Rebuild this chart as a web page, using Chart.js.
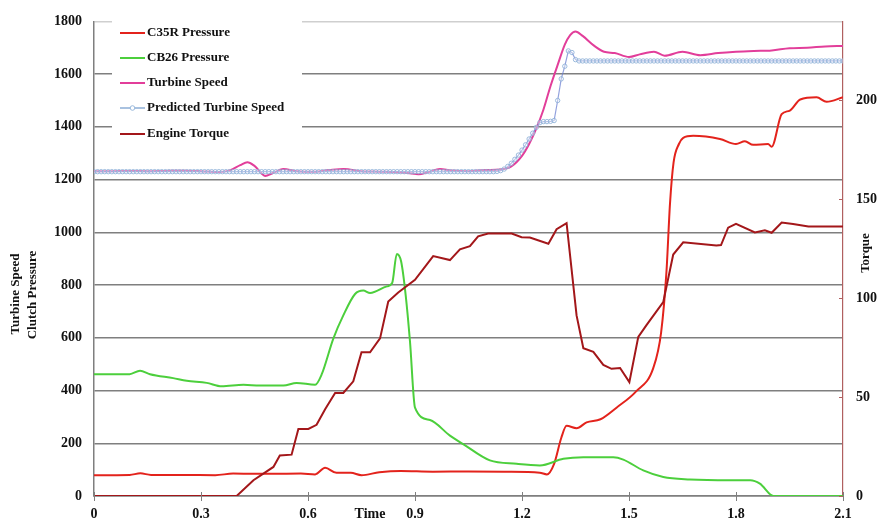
<!DOCTYPE html>
<html>
<head>
<meta charset="utf-8">
<script src="https://cdn.jsdelivr.net/npm/chart.js@4.4.1/dist/chart.umd.min.js"></script>
<style>
  html, body { margin: 0; padding: 0; background: #ffffff; }
  #wrap { width: 879px; height: 520px; position: relative; }
</style>
</head>
<body>
<div id="wrap"><canvas id="c" width="879" height="520"></canvas></div>
<script>
// ---------------- data ----------------
const seriesNames = ["C35R Pressure", "CB26 Pressure", "Turbine Speed", "Predicted Turbine Speed", "Engine Torque"];

const xTickLabels = ["0", "0.3", "0.6", "0.9", "1.2", "1.5", "1.8", "2.1"];
const leftTickLabels = ["0", "200", "400", "600", "800", "1000", "1200", "1400", "1600", "1800"];
const rightTickLabels = ["0", "50", "100", "150", "200"];

const c35rTime = [0, 0.1, 0.13, 0.16, 0.25, 0.34, 0.39, 0.45, 0.5, 0.58, 0.62, 0.648, 0.68, 0.72, 0.75, 0.8, 0.86, 0.95, 1.05, 1.15, 1.25, 1.27, 1.29, 1.31, 1.325, 1.353, 1.381, 1.42, 1.465, 1.52, 1.568, 1.59, 1.605, 1.615, 1.625, 1.64, 1.652, 1.68, 1.755, 1.8, 1.825, 1.848, 1.89, 1.9, 1.928, 1.951, 1.98, 2.026, 2.054, 2.1];
const c35rValues = [79, 80, 86, 80, 80, 79, 85, 84, 84, 85, 82, 107, 88, 88, 79, 90, 95, 92, 93, 92, 88, 82, 122, 220, 266, 257, 279, 291, 335, 397, 485, 620, 850, 1110, 1265, 1335, 1358, 1366, 1354, 1335, 1345, 1332, 1335, 1325, 1448, 1462, 1504, 1512, 1495, 1512];

const cb26Time = [0, 0.1, 0.129, 0.157, 0.222, 0.26, 0.316, 0.358, 0.419, 0.465, 0.531, 0.568, 0.62, 0.638, 0.671, 0.699, 0.732, 0.755, 0.774, 0.821, 0.836, 0.849, 0.861, 0.874, 0.886, 0.9, 0.942, 0.998, 1.035, 1.11, 1.185, 1.25, 1.316, 1.372, 1.456, 1.484, 1.54, 1.596, 1.671, 1.783, 1.84, 1.867, 1.905, 2.1];
const cb26Values = [462, 462, 475, 462, 447, 437, 429, 416, 422, 419, 419, 429, 422, 460, 597, 685, 766, 779, 770, 795, 808, 918, 890, 760, 585, 335, 288, 229, 197, 135, 122, 116, 141, 147, 147, 138, 97, 72, 63, 60, 60, 47, 0, 0];

const turbineTime = [0, 0.05, 0.1, 0.15, 0.2, 0.25, 0.3, 0.35, 0.38, 0.41, 0.43, 0.45, 0.48, 0.5, 0.53, 0.57, 0.62, 0.66, 0.7, 0.75, 0.8, 0.85, 0.88, 0.91, 0.94, 0.97, 1.0, 1.05, 1.1, 1.14, 1.17, 1.2, 1.22, 1.24, 1.26, 1.28, 1.3, 1.32, 1.335, 1.35, 1.37, 1.4, 1.43, 1.46, 1.5, 1.53, 1.57, 1.6, 1.65, 1.7, 1.75, 1.8, 1.85, 1.9, 1.95, 2.0, 2.05, 2.1];
const turbineValues = [1232, 1232, 1233, 1232, 1233, 1234, 1232, 1229, 1235, 1255, 1266, 1252, 1214, 1224, 1240, 1232, 1230, 1236, 1240, 1232, 1230, 1228, 1225, 1220, 1230, 1240, 1235, 1232, 1236, 1238, 1250, 1290, 1335, 1393, 1465, 1555, 1635, 1712, 1748, 1762, 1745, 1710, 1685, 1680, 1665, 1675, 1685, 1670, 1685, 1672, 1680, 1685, 1688, 1690, 1698, 1700, 1705, 1707];

// predicted turbine speed, sampled every 0.01 s from 0 to 2.1
const predictedStep = 0.01;
const predictedValues = [
  1230, 1230, 1230, 1230, 1230, 1230, 1230, 1230, 1230, 1230,
  1230, 1230, 1230, 1230, 1230, 1230, 1230, 1230, 1230, 1230,
  1230, 1230, 1230, 1230, 1230, 1230, 1230, 1230, 1230, 1230,
  1230, 1230, 1230, 1230, 1230, 1230, 1230, 1230, 1230, 1230,
  1230, 1230, 1230, 1230, 1230, 1230, 1230, 1230, 1230, 1230,
  1230, 1230, 1230, 1230, 1230, 1230, 1230, 1230, 1230, 1230,
  1230, 1230, 1230, 1230, 1230, 1230, 1230, 1230, 1230, 1230,
  1230, 1230, 1230, 1230, 1230, 1230, 1230, 1230, 1230, 1230,
  1230, 1230, 1230, 1230, 1230, 1230, 1230, 1230, 1230, 1230,
  1230, 1230, 1230, 1230, 1230, 1230, 1230, 1230, 1230, 1230,
  1230, 1230, 1230, 1230, 1230, 1230, 1230, 1230, 1230, 1230,
  1230, 1230, 1230, 1231, 1234, 1240, 1250, 1262, 1277, 1293,
  1312, 1332, 1354, 1376, 1398, 1416, 1420, 1420, 1421, 1424,
  1500, 1582, 1630, 1688, 1682, 1655, 1650, 1650, 1650, 1650,
  1650, 1650, 1650, 1650, 1650, 1650, 1650, 1650, 1650, 1650,
  1650, 1650, 1650, 1650, 1650, 1650, 1650, 1650, 1650, 1650,
  1650, 1650, 1650, 1650, 1650, 1650, 1650, 1650, 1650, 1650,
  1650, 1650, 1650, 1650, 1650, 1650, 1650, 1650, 1650, 1650,
  1650, 1650, 1650, 1650, 1650, 1650, 1650, 1650, 1650, 1650,
  1650, 1650, 1650, 1650, 1650, 1650, 1650, 1650, 1650, 1650,
  1650, 1650, 1650, 1650, 1650, 1650, 1650, 1650, 1650, 1650,
  1650
];

const torqueTime = [0, 0.4, 0.447, 0.503, 0.521, 0.554, 0.573, 0.601, 0.624, 0.648, 0.676, 0.699, 0.727, 0.75, 0.774, 0.802, 0.825, 0.853, 0.9, 0.951, 0.998, 1.026, 1.054, 1.077, 1.105, 1.171, 1.199, 1.222, 1.274, 1.297, 1.325, 1.353, 1.372, 1.4, 1.428, 1.451, 1.475, 1.501, 1.526, 1.549, 1.596, 1.624, 1.652, 1.745, 1.758, 1.778, 1.8, 1.853, 1.881, 1.9, 1.928, 1.96, 2.003, 2.1];
const torqueValues = [0, 0, 8, 14.7, 20.5, 20.9, 33.9, 33.9, 36, 43.9, 52.1, 52.1, 58, 72.7, 72.7, 79.7, 98.4, 102.9, 109.3, 121.3, 119.3, 124.7, 126.3, 131.3, 132.7, 132.7, 130.9, 130.7, 127.6, 134.9, 138, 91.3, 74.7, 72.9, 66.3, 64.3, 64.7, 57.6, 80.5, 86.4, 98, 122.1, 128.3, 126.7, 126.9, 135.7, 137.6, 133.3, 134.4, 133.1, 138.3, 137.6, 136.3, 136.3];

// ---------------- helpers ----------------
const toPoints = (ts, vs) => vs.map((v, i) => ({ x: ts[i], y: v }));
const predictedPoints = predictedValues.map((v, i) => ({ x: Math.round(i * predictedStep * 100) / 100, y: v }));

const SERIF = "'Liberation Serif', 'Times New Roman', serif";
const GRID = '#7f7f7f';

const colors = {
  c35r: '#e3231c',
  cb26: '#4ccf3c',
  turbine: '#e23e9a',
  predicted: '#93afd8',
  torque: '#a3171a'
};

// ---------------- custom drawing plugin (legend, titles, tick marks) ----------------
const decorPlugin = {
  id: 'decor',
  afterDatasetsDraw(chart) {
    const ctx = chart.ctx;
    const ds = chart.data.datasets;
    // legend box
    ctx.save();
    ctx.fillStyle = '#ffffff';
    ctx.fillRect(112, 18, 190, 128);
    const rows = [33, 58, 83, 108, 134];
    ctx.font = 'bold 13px ' + SERIF;
    ctx.textBaseline = 'middle';
    ctx.textAlign = 'left';
    ds.forEach((d, i) => {
      const y = rows[i];
      ctx.strokeStyle = d.legendColor || d.borderColor;
      ctx.lineWidth = 2;
      ctx.beginPath();
      ctx.moveTo(120, y);
      ctx.lineTo(145, y);
      ctx.stroke();
      if (d.pointRadius > 0) {
        ctx.lineWidth = 1;
        ctx.fillStyle = '#ffffff';
        ctx.strokeStyle = d.pointBorderColor;
        ctx.beginPath();
        ctx.arc(132.5, y, 2.3, 0, Math.PI * 2);
        ctx.fill();
        ctx.stroke();
      }
      ctx.fillStyle = '#111111';
      ctx.fillText(d.label, 147, y);
    });
    ctx.restore();
  },
  afterDraw(chart) {
    const ctx = chart.ctx;
    const xs = chart.scales.x;
    const yr = chart.scales.y2;
    const area = chart.chartArea;
    ctx.save();
    // x cross ticks
    ctx.strokeStyle = GRID;
    ctx.lineWidth = 1;
    xs.ticks.forEach(t => {
      const px = Math.round(xs.getPixelForValue(t.value)) + 0.5;
      ctx.beginPath();
      ctx.moveTo(px, area.bottom - 4);
      ctx.lineTo(px, area.bottom + 5);
      ctx.stroke();
    });
    // right axis inward ticks
    ctx.strokeStyle = '#b06060';
    yr.ticks.forEach(t => {
      const py = Math.round(yr.getPixelForValue(t.value)) + 0.5;
      ctx.beginPath();
      ctx.moveTo(area.right - 4, py);
      ctx.lineTo(area.right, py);
      ctx.stroke();
    });
    // axis titles
    ctx.fillStyle = '#111111';
    ctx.font = 'bold 13px ' + SERIF;
    ctx.textAlign = 'center';
    ctx.textBaseline = 'middle';
    const rot = (txt, x, y) => {
      ctx.save();
      ctx.translate(x, y);
      ctx.rotate(-Math.PI / 2);
      ctx.fillText(txt, 0, 0);
      ctx.restore();
    };
    rot('Turbine Speed', 16, 294);
    rot('Clutch Pressure', 32.5, 295);
    rot('Torque', 866, 253);
    ctx.font = 'bold 14px ' + SERIF;
    ctx.fillText('Time', 370, 514);
    ctx.restore();
  }
};

// ---------------- chart ----------------
new Chart(document.getElementById('c'), {
  type: 'line',
  data: {
    datasets: [
      {
        label: seriesNames[0],
        data: toPoints(c35rTime, c35rValues),
        borderColor: colors.c35r,
        borderWidth: 2,
        pointRadius: 0,
        cubicInterpolationMode: 'monotone',
        yAxisID: 'y',
        order: 5
      },
      {
        label: seriesNames[1],
        data: toPoints(cb26Time, cb26Values),
        borderColor: colors.cb26,
        borderWidth: 2,
        pointRadius: 0,
        cubicInterpolationMode: 'monotone',
        yAxisID: 'y',
        order: 4
      },
      {
        label: seriesNames[2],
        data: toPoints(turbineTime, turbineValues),
        borderColor: colors.turbine,
        borderWidth: 2,
        pointRadius: 0,
        cubicInterpolationMode: 'monotone',
        yAxisID: 'y',
        order: 3
      },
      {
        label: seriesNames[3],
        data: predictedPoints,
        borderColor: 'rgba(110,130,210,0.75)',
        legendColor: '#a9c2e0',
        borderWidth: 1.2,
        pointRadius: 2.2,
        pointBorderWidth: 1,
        pointBorderColor: 'rgba(140,175,215,0.85)',
        pointBackgroundColor: 'rgba(255,255,255,0.35)',
        yAxisID: 'y',
        order: 2
      },
      {
        label: seriesNames[4],
        data: toPoints(torqueTime, torqueValues),
        borderColor: colors.torque,
        borderWidth: 2,
        pointRadius: 0,
        tension: 0,
        yAxisID: 'y2',
        order: 1
      }
    ]
  },
  plugins: [decorPlugin],
  options: {
    responsive: false,
    animation: false,
    events: [],
    layout: { padding: { top: 16, left: 0, right: 0, bottom: 0 } },
    plugins: {
      legend: { display: false },
      tooltip: { enabled: false },
      title: { display: false }
    },
    scales: {
      x: {
        type: 'linear',
        min: 0,
        max: 2.1,
        afterBuildTicks(scale) {
          scale.ticks = xTickLabels.map(s => ({ value: parseFloat(s) }));
        },
        afterFit(scale) { scale.height = 24; },
        ticks: {
          callback: (v, i) => xTickLabels[i],
          font: { family: SERIF, size: 14, weight: 'bold' },
          color: '#111111',
          padding: 10,
          maxRotation: 0,
          autoSkip: false
        },
        grid: { display: true, drawOnChartArea: false, drawTicks: false },
        border: { display: true, color: GRID, width: 1.5 }
      },
      y: {
        position: 'left',
        min: 0,
        max: 1800,
        afterBuildTicks(scale) {
          scale.ticks = leftTickLabels.map(s => ({ value: parseFloat(s) }));
        },
        afterFit(scale) { scale.width = 94; },
        ticks: {
          callback: (v, i) => leftTickLabels[i],
          font: { family: SERIF, size: 14, weight: 'bold' },
          color: '#111111',
          padding: 12
        },
        grid: {
          drawTicks: false,
          color: ctx => (ctx.tick && ctx.tick.value === 1800) ? '#cfcfcf' : GRID,
          lineWidth: 1.5
        },
        border: { display: true, color: GRID, width: 1.5 }
      },
      y2: {
        position: 'right',
        min: 0,
        max: 240,
        afterBuildTicks(scale) {
          scale.ticks = rightTickLabels.map(s => ({ value: parseFloat(s) }));
        },
        afterFit(scale) { scale.width = 36; },
        ticks: {
          callback: (v, i) => rightTickLabels[i],
          font: { family: SERIF, size: 14, weight: 'bold' },
          color: '#111111',
          padding: 13
        },
        grid: { drawOnChartArea: false, drawTicks: false },
        border: { display: true, color: '#b06060', width: 1.2 }
      }
    }
  }
});
</script>
</body>
</html>
